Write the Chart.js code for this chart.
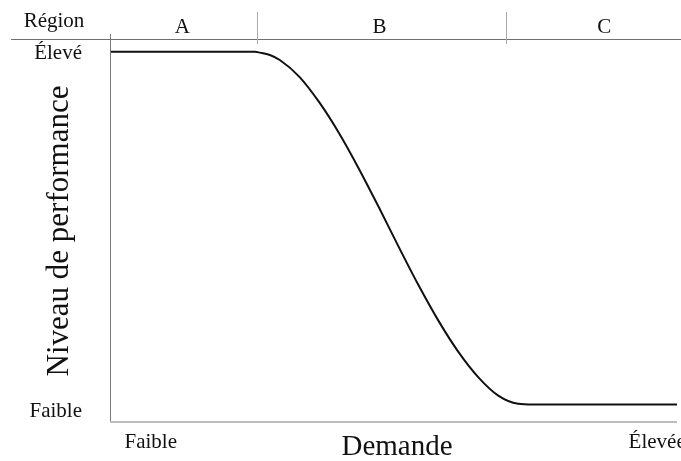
<!DOCTYPE html>
<html>
<head>
<meta charset="utf-8">
<script src="https://cdn.jsdelivr.net/npm/chart.js"></script>
<style>
  html, body { margin:0; padding:0; background:#fff; overflow:hidden; }
</style>
</head>
<body>
<canvas id="perf" width="681" height="461"></canvas>
<script>
// Demand (x) vs performance level (y)
const demand      = [0, 2.9, 3.0, 3.2, 3.4, 3.8, 4.2, 4.6, 5.0, 5.4, 5.8, 6.2, 6.6, 7.0, 7.4, 7.8, 8.2, 8.5, 11.4];
const performance = [9.54, 9.54, 9.52, 9.46, 9.33, 8.89, 8.23, 7.43, 6.51, 5.52, 4.50, 3.51, 2.60, 1.80, 1.15, 0.68, 0.47, 0.45, 0.45];

const regionNames  = ["A", "B", "C"];
const regionBounds = [0, 2.95, 7.95, 12];

const yTickValues = [9.5, 0.28];
const yTickLabels = ["Élevé", "Faible"];
const xTickValues = [0.8, 11.0];
const xTickLabels = ["Faible", "Élevée"];

const SERIF = "'Liberation Serif', 'DejaVu Serif', serif";

const overlay = {
    id: "overlay",
    beforeDatasetsDraw(chart) {
        const { ctx, chartArea: a, scales: { x } } = chart;
        ctx.save();

        // header rule under "Région"
        ctx.strokeStyle = "#707070";
        ctx.lineWidth = 1;
        ctx.beginPath();
        ctx.moveTo(11, 39.5);
        ctx.lineTo(chart.width, 39.5);
        ctx.stroke();

        // region separators
        ctx.strokeStyle = "#aaaaaa";
        ctx.beginPath();
        regionBounds.slice(1, -1).forEach(v => {
            const px = Math.round(x.getPixelForValue(v)) + 0.5;
            ctx.moveTo(px, 12);
            ctx.lineTo(px, 44);
        });
        ctx.stroke();

        // left axis
        ctx.strokeStyle = "#7a7a7a";
        ctx.beginPath();
        ctx.moveTo(a.left - 0.5, a.top);
        ctx.lineTo(a.left - 0.5, a.bottom + 1);
        ctx.stroke();

        // bottom axis
        ctx.strokeStyle = "#bdbdbd";
        ctx.lineWidth = 2;
        ctx.beginPath();
        ctx.moveTo(a.left - 1, a.bottom);
        ctx.lineTo(a.right, a.bottom);
        ctx.stroke();
        ctx.restore();
    },
    afterDraw(chart) {
        const { ctx, chartArea: a, scales: { x, y } } = chart;
        ctx.save();
        ctx.fillStyle = "#111";

        // header labels
        ctx.font = "21px " + SERIF;
        ctx.textAlign = "center";
        ctx.textBaseline = "alphabetic";
        ctx.fillText("Région", 54, 27);
        regionNames.forEach((name, i) => {
            const mid = (regionBounds[i] + regionBounds[i + 1]) / 2;
            ctx.fillText(name, x.getPixelForValue(mid) - 2, 33);
        });

        // y tick labels
        ctx.textAlign = "right";
        ctx.textBaseline = "middle";
        yTickValues.forEach((v, i) => ctx.fillText(yTickLabels[i], 82, y.getPixelForValue(v)));

        // x tick labels
        ctx.textAlign = "center";
        ctx.textBaseline = "alphabetic";
        xTickValues.forEach((v, i) => ctx.fillText(xTickLabels[i], x.getPixelForValue(v), 448));

        // axis titles
        ctx.font = "29px " + SERIF;
        ctx.fillText("Demande", 397, 455);

        ctx.font = "31px " + SERIF;
        ctx.translate(68, (a.top + a.bottom) / 2 + 3);
        ctx.rotate(-Math.PI / 2);
        ctx.fillText("Niveau de performance", 0, 0);
        ctx.restore();
    }
};

new Chart(document.getElementById("perf"), {
    type: "line",
    data: {
        datasets: [{
            data: demand.map((d, i) => ({ x: d, y: performance[i] })),
            borderColor: "#111",
            borderWidth: 2,
            pointRadius: 0,
            fill: false,
            cubicInterpolationMode: "monotone"
        }]
    },
    options: {
        responsive: false,
        animation: false,
        layout: { padding: { left: 111, right: 4, top: 34, bottom: 39 } },
        plugins: { legend: { display: false }, tooltip: { enabled: false } },
        scales: {
            x: { type: "linear", min: 0, max: 11.4, display: false },
            y: { min: 0, max: 10, display: false }
        }
    },
    plugins: [overlay]
});
</script>
</body>
</html>
